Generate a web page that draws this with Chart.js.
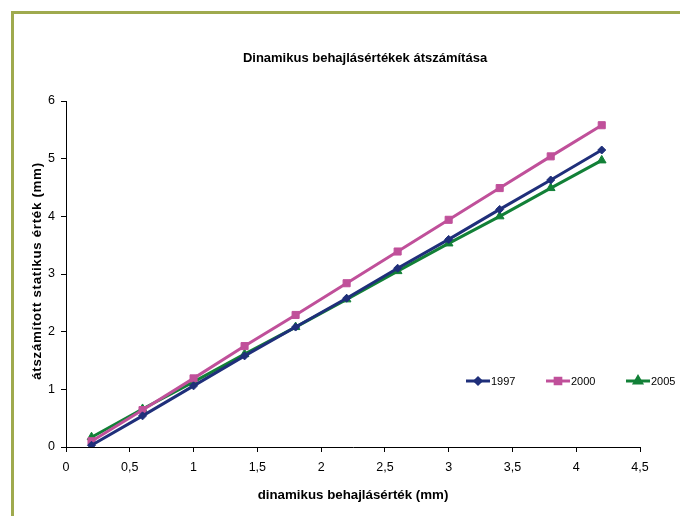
<!DOCTYPE html>
<html><head><meta charset="utf-8">
<script src="https://cdn.jsdelivr.net/npm/chart.js@4/dist/chart.umd.min.js"></script>
<style>
html,body{margin:0;padding:0;background:#fff;}
#wrap{position:relative;width:680px;height:516px;overflow:hidden;}
#frame{position:absolute;left:11px;top:11px;width:700px;height:540px;border-left:3px solid #9FAA4E;border-top:3px solid #9FAA4E;box-sizing:border-box;}
canvas{position:absolute;left:0;top:0;}
</style></head>
<body><div id="wrap"><div id="frame"></div><canvas id="c" width="680" height="516"></canvas></div>
<script>
const xValues = [0.2, 0.6, 1.0, 1.4, 1.8, 2.2, 2.6, 3.0, 3.4, 3.8, 4.2];
const s1997 = [0.03, 0.54, 1.06, 1.58, 2.08, 2.58, 3.10, 3.60, 4.12, 4.63, 5.15];
const s2000 = [0.10, 0.64, 1.19, 1.75, 2.29, 2.84, 3.39, 3.94, 4.49, 5.04, 5.58];
const s2005 = [0.17, 0.66, 1.13, 1.61, 2.08, 2.56, 3.05, 3.53, 4.00, 4.49, 4.97];
const seriesNames = ['1997', '2000', '2005'];
const titleText = 'Dinamikus behajlásértékek átszámítása';
const xTitle = 'dinamikus behajlásérték (mm)';
const yTitle = 'átszámított statikus érték (mm)';

const colors = ['#1F2F7A', '#C0509A', '#128037'];
const styles = ['rectRot', 'rect', 'triangle'];
const radii = [4, 5, 5];
const FONT = '"Liberation Sans", Arial, sans-serif';

function pts(arr){ return xValues.map((x,i)=>({x:x,y:arr[i]})); }

const legendPlugin = {
  id:'customLegend',
  afterDraw(chart){
    const ctx = chart.ctx;
    ctx.save();
    // title
    ctx.font = 'bold 13px ' + FONT;
    ctx.fillStyle = '#000';
    ctx.textAlign = 'center';
    ctx.textBaseline = 'middle';
    ctx.fillText(titleText, 365, 58);
    // y axis title
    ctx.save();
    ctx.translate(37, 271);
    ctx.rotate(-Math.PI/2);
    ctx.font = 'bold 13.3px ' + FONT;
    ctx.letterSpacing = '0.7px';
    ctx.fillText(yTitle, 0, 0);
    ctx.restore();
    // legend
    const lx = [466, 546, 626];
    const ly = 381;
    chart.data.datasets.forEach((ds,i)=>{
      ctx.strokeStyle = colors[i];
      ctx.lineWidth = 3;
      ctx.beginPath(); ctx.moveTo(lx[i], ly); ctx.lineTo(lx[i]+24, ly); ctx.stroke();
      Chart.helpers.drawPoint(ctx, {pointStyle: styles[i], radius: radii[i]-1, borderWidth:1}, lx[i]+12, ly);
      ctx.fillStyle = colors[i];
      ctx.fill();
      ctx.fillStyle = '#000';
      ctx.font = '11px ' + FONT;
      ctx.textAlign = 'left';
      ctx.fillText(seriesNames[i], lx[i]+25, ly+1);
    });
    ctx.restore();
  }
};

new Chart(document.getElementById('c'), {
  type:'scatter',
  data:{ datasets:[s1997,s2000,s2005].map((arr,i)=>({
    label: seriesNames[i],
    data: pts(arr),
    showLine:true,
    borderColor: colors[i],
    backgroundColor: colors[i],
    borderWidth: 3,
    pointStyle: styles[i],
    pointRadius: radii[i],
    pointBorderWidth: 1,
    pointHoverRadius: radii[i],
    tension: 0
  }))},
  options:{
    responsive:false,
    animation:false,
    events:[],
    layout:{padding:{left:11, right:40, top:101, bottom:13}},
    plugins:{legend:{display:false}, title:{display:false}, tooltip:{enabled:false}},
    scales:{
      x:{
        type:'linear', min:0, max:4.5,
        ticks:{stepSize:0.5, color:'#000', font:{family:FONT, size:12.5}, padding:8,
          callback:v=>String(v).replace('.',',')},
        grid:{display:true, drawOnChartArea:false, drawTicks:true, tickLength:5, tickColor:'#000'},
        border:{color:'#000', width:1},
        title:{display:true, text:xTitle, color:'#000', font:{family:FONT, size:13.3, weight:'bold'}, padding:{top:6, bottom:0}},
        afterFit(s){ s.height = 516-447-13; }
      },
      y:{
        min:0, max:6,
        ticks:{stepSize:1, color:'#000', font:{family:FONT, size:12.5}, padding:6},
        grid:{display:true, drawOnChartArea:false, drawTicks:true, tickLength:5, tickColor:'#000'},
        border:{color:'#000', width:1},
        title:{display:false},
        afterFit(s){ s.width = 66-11; }
      }
    }
  },
  plugins:[legendPlugin]
});
</script></body></html>
